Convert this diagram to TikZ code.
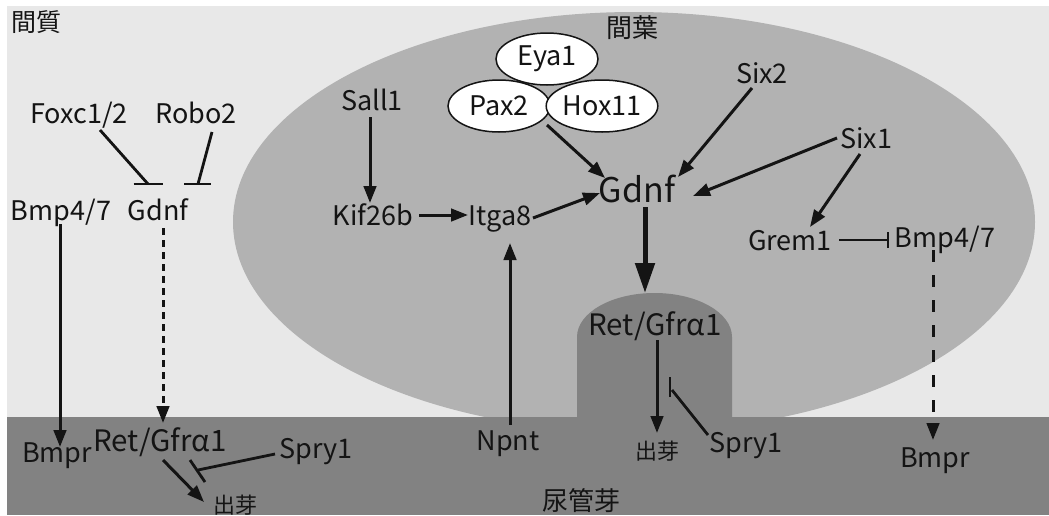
\documentclass[tikz,border=0pt]{standalone}
\usepackage{fontspec}
\setmainfont{Noto Sans CJK JP}
\usetikzlibrary{arrows.meta,calc,shapes.geometric}
\definecolor{stroma}{RGB}{232,232,232}
\definecolor{mesen}{RGB}{178,178,178}
\definecolor{ureteric}{RGB}{130,130,130}
\definecolor{ink}{RGB}{20,20,20}
\begin{document}
\begin{tikzpicture}[x=1pt,y=-1pt,
  lbl/.style={inner sep=0pt, anchor=base, text=ink, font=\fontsize{27}{29}\selectfont},
  biglbl/.style={lbl, font=\fontsize{29.5}{31}\selectfont},
  hub/.style={lbl, font=\fontsize{34}{36}\selectfont},
  region/.style={inner sep=0pt, anchor=center, text=ink, font=\fontsize{25}{27}\selectfont},
  sprout/.style={inner sep=0pt, anchor=center, text=ink, font=\fontsize{22}{24}\selectfont},
  gene/.style={ellipse, draw=ink, line width=1.5pt, fill=white, minimum width=102pt,
    minimum height=52pt, inner sep=0pt, text=ink, font=\fontsize{27}{29}\selectfont},
  act/.style={draw=ink, line width=3pt, -{Triangle[length=17pt,width=12.5pt]}},
  strong/.style={draw=ink, line width=5pt, -{Triangle[length=30pt,width=19pt]}},
  inh/.style={draw=ink, line width=2.8pt},
  dotline/.style={act, dash pattern=on 7pt off 5pt},
  dashline/.style={act, dash pattern=on 12pt off 13pt}]
\useasboundingbox (0,0) rectangle (1049,515);
% tissue regions
\fill[white] (0,0) rectangle (1049,515);
\fill[stroma] (7,6) rectangle (1049,417);
\fill[mesen] (634,222) ellipse [x radius=401pt, y radius=210pt];
\fill[ureteric] (7,417) rectangle (1049,515);
\fill[ureteric] (577,420) -- (577,337)
  arc[start angle=180, end angle=0, x radius=77.5pt, y radius=44pt] -- (732,420) -- cycle;

% region names
\node[region] (stromaname) at (37,22) {間質};
\node[region, font=\fontsize{26}{28}\selectfont] (mesname) at (632,28) {間葉};
\node[region, font=\fontsize{26}{28}\selectfont] (budname) at (581,501) {尿管芽};

% stroma
\node[lbl] (foxc) at (79,123) {Foxc1/2};
\node[lbl] (robo) at (196,123) {Robo2};
\node[lbl] (bmpL) at (61,220) {Bmp4/7};
\node[lbl] (gdnfL) at (158,220) {Gdnf};
\node[lbl] (bmprL) at (57,462) {Bmpr};
\node[biglbl] (retL) at (160,451) {Ret/Gfrα1};
\node[lbl] (spryL) at (316,458) {Spry1};
\node[sprout] (budL) at (235,505) {出芽};

% mesenchyme
\node[gene] (eya) at (547,59) {Eya1};
\node[gene] (pax) at (499,106) {Pax2};
\node[gene] (hox) at (602,106) {Hox11};
\node[lbl] (sall) at (372,110) {Sall1};
\node[lbl] (kif) at (373,225) {Kif26b};
\node[lbl] (itga) at (500,225) {Itga8};
\node[hub] (gdnf) at (637,202) {Gdnf};
\node[lbl] (six2) at (762,83) {Six2};
\node[lbl] (six1) at (866,148) {Six1};
\node[lbl] (grem) at (790,250) {Grem1};
\node[lbl] (bmpR) at (945,247) {Bmp4/7};

% ureteric bud
\node[lbl] (npnt) at (508,450) {Npnt};
\node[biglbl] (retM) at (655,335) {Ret/Gfrα1};
\node[sprout] (budM) at (657,451) {出芽};
\node[lbl] (spryM) at (746,452) {Spry1};
\node[lbl] (bmprR) at (935,467) {Bmpr};

% stroma connections
\draw[inh] ($(foxc.base)+(21,7)$) -- ($(gdnfL.base)+(-10,-36)$) coordinate (fx);
\draw[inh] ($(fx)+(-14.5,0)$) -- ($(fx)+(14.5,0)$);
\draw[inh] ($(robo.base)+(16,9)$) -- ($(gdnfL.base)+(40,-36)$) coordinate (rb);
\draw[inh] ($(rb)+(-14,0)$) -- ($(rb)+(13,0)$);
\draw[act] ($(bmpL.base)+(-1,4)$) -- ($(bmprL.base)+(3,-15)$);
\draw[dotline] ($(gdnfL.base)+(5,8)$) -- ($(retL.base)+(3,-28)$);
\draw[act] ($(retL.base)+(3,9)$) -- ($(budL.center)+(-31,-3)$);
\draw[inh] ($(spryL.base)+(-41,-4)$) -- ($(retL.base)+(38,19)$) coordinate (sl);
\draw[inh] ($(sl)+(-8,-10)$) -- ($(sl)+(7,12)$);

% mesenchyme connections
\draw[act] ($(sall.base)+(-2,7)$) -- ($(kif.base)+(-3,-22)$);
\draw[act] ($(kif.base)+(46,-10)$) -- ($(itga.base)+(-32,-10)$);
\draw[act] ($(itga.base)+(33,-7)$) -- ($(gdnf.base)+(-37,-9)$);
\draw[act] ($(npnt.base)+(2,-25)$) -- ($(itga.base)+(10,18)$);
\draw[act] ($(pax.center)+(48,19)$) -- ($(gdnf.base)+(-32,-24)$);
\draw[act] ($(six2.base)+(-10,5)$) -- ($(gdnf.base)+(41,-25)$);
\draw[act] ($(six1.base)+(-29,-10)$) -- ($(gdnf.base)+(56,-6)$);
\draw[act] ($(six1.base)+(-6,6)$) -- ($(grem.base)+(20,-23)$);
\draw[inh] ($(grem.base)+(49,-10)$) -- ($(bmpR.base)+(-57,-7)$) coordinate (gb);
\draw[inh] ($(gb)+(0,-8)$) -- ($(gb)+(0,8)$);
\draw[dashline] ($(bmpR.base)+(-12,3)$) -- ($(bmprR.base)+(-2,-27)$);

% bud connections
\draw[strong] ($(gdnf.base)+(8,5)$) -- ($(retM.base)+(-10,-42)$);
\draw[act] ($(retM.base)+(2,5)$) -- ($(budM.center)+(0,-18)$);
\draw[inh] ($(spryM.base)+(-38,-17)$) -- ($(retM.base)+(17,55)$) coordinate (sm);
\draw[inh] ($(sm)+(-2,-13)$) -- ($(sm)+(-2,7)$);
\end{tikzpicture}
\end{document}
